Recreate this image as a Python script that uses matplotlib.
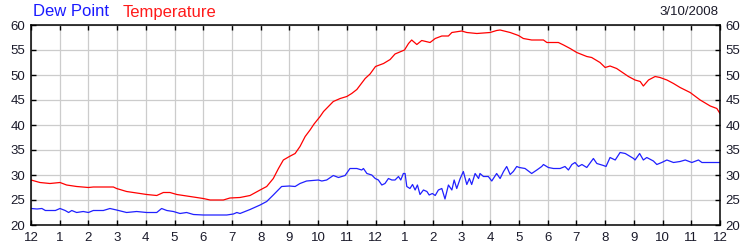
import numpy as np
import matplotlib
matplotlib.use("Agg")
import matplotlib.pyplot as plt

plt.rcParams['font.family'] = ['Liberation Sans', 'DejaVu Sans']

# readings (hour of day, deg F) taken off the chart
temp_hours = [0.0, 0.31, 0.66, 1.01, 1.24, 1.59, 2.0, 2.17, 2.87, 2.98, 3.33, 3.80,
              4.03, 4.38, 4.61, 4.84, 5.08, 5.54, 6.0, 6.24, 6.70, 6.93, 7.28, 7.63,
              7.98, 8.21, 8.44, 8.62, 8.79, 9.0, 9.2, 9.37, 9.55, 9.72, 9.86,
              10.07, 10.19, 10.36, 10.53, 10.77, 11.0, 11.17, 11.35, 11.64, 11.81,
              12.0, 12.28, 12.51, 12.68, 13.01, 13.15, 13.26, 13.44, 13.61, 13.9,
              14.08, 14.31, 14.54, 14.66, 15.0, 15.18, 15.53, 15.76, 15.99, 16.22,
              16.34, 16.69, 16.98, 17.15, 17.44, 17.85, 17.97, 18.37, 18.55, 18.78,
              19.01, 19.36, 19.53, 19.82, 20.0, 20.17, 20.4, 20.81, 21.04, 21.22,
              21.33, 21.51, 21.74, 21.91, 22.15, 22.38, 22.61, 22.96, 23.31, 23.66,
              23.89, 24.0]
temperature = [29.0, 28.5, 28.3, 28.5, 28.0, 27.7, 27.5, 27.6, 27.6, 27.3, 26.7, 26.3,
               26.1, 25.9, 26.5, 26.5, 26.1, 25.7, 25.3, 25.0, 25.0, 25.4, 25.5, 25.9,
               27.0, 27.7, 29.3, 31.3, 33.0, 33.7, 34.3, 35.7, 37.7, 39.0, 40.2,
               41.7, 42.7, 43.7, 44.7, 45.3, 45.7, 46.3, 47.1, 49.3, 50.2,
               51.7, 52.3, 53.1, 54.2, 55.0, 56.3, 57.0, 56.1, 56.9, 56.5,
               57.3, 57.8, 57.8, 58.5, 58.8, 58.5, 58.3, 58.4, 58.5, 58.9,
               59.0, 58.5, 57.9, 57.3, 57.0, 57.0, 56.5, 56.5, 56.0, 55.3,
               54.5, 53.7, 53.5, 52.5, 51.5, 51.8, 51.3, 49.7, 49.0, 48.7,
               47.8, 49.0, 49.7, 49.5, 49.0, 48.3, 47.5, 46.5, 45.0, 43.8,
               43.3, 42.3]

dew_hours = [0.0, 0.21, 0.38, 0.5, 0.85, 1.01, 1.19, 1.31, 1.42, 1.59, 1.82, 2.0,
             2.17, 2.52, 2.75, 2.98, 3.33, 3.68, 4.03, 4.38, 4.55, 4.73, 4.96, 5.19,
             5.42, 5.66, 6.0, 6.35, 6.82, 7.05, 7.17, 7.28, 7.63,
             7.98, 8.21, 8.44, 8.73, 9.0, 9.2, 9.37, 9.6, 10.01, 10.13, 10.3, 10.53,
             10.71, 10.94, 11.11, 11.35, 11.52, 11.58, 11.7, 11.87, 11.99, 12.1,
             12.22, 12.33, 12.45, 12.57, 12.68, 12.8, 12.88, 12.97, 13.03, 13.09,
             13.2, 13.29, 13.38, 13.46, 13.55, 13.67, 13.79, 13.87, 13.98, 14.08,
             14.19, 14.31, 14.42, 14.54, 14.66, 14.74, 14.83, 14.95, 15.06, 15.18,
             15.27, 15.35, 15.47, 15.59, 15.64, 15.76, 15.93, 16.05, 16.22, 16.34,
             16.46, 16.57, 16.69, 16.8, 16.92, 17.01, 17.21, 17.44, 17.62, 17.79,
             17.85, 18.02, 18.2, 18.43, 18.6, 18.72, 18.84, 18.95, 19.07, 19.19,
             19.36, 19.59, 19.71, 19.94, 20.03, 20.17, 20.35, 20.52, 20.7, 20.87,
             20.99, 21.04, 21.2, 21.33, 21.45, 21.68, 21.8, 21.97, 22.15, 22.38,
             22.61, 22.79, 23.02, 23.25, 23.37, 24.0]
dew_point = [23.3, 23.2, 23.3, 22.9, 22.9, 23.3, 22.9, 22.5, 22.9, 22.5, 22.7, 22.5,
             22.9, 22.9, 23.3, 23.0, 22.5, 22.7, 22.5, 22.5, 23.3, 22.9, 22.7, 22.3,
             22.5, 22.1, 22.0, 22.0, 22.0, 22.2, 22.5, 22.3, 23.1,
             24.0, 24.7, 26.0, 27.7, 27.8, 27.7, 28.3, 28.8, 29.0, 28.8, 29.0, 29.9,
             29.5, 29.9, 31.3, 31.3, 31.0, 31.3, 30.3, 30.0, 29.3, 29.0,
             28.0, 28.3, 29.3, 29.0, 29.0, 29.7, 29.0, 30.3, 30.3, 27.7,
             27.3, 28.1, 27.0, 28.0, 26.1, 27.0, 26.7, 26.0, 26.3, 25.9,
             27.0, 27.3, 25.2, 28.0, 27.0, 29.0, 27.3, 29.3, 30.7, 28.1,
             29.3, 28.1, 30.3, 29.3, 30.3, 29.7, 29.7, 28.8, 30.3, 29.3,
             30.7, 31.7, 30.1, 30.7, 31.7, 31.5, 31.3, 30.3, 31.0, 31.7,
             32.1, 31.5, 31.3, 31.3, 31.7, 31.0, 32.1, 32.5, 31.7, 32.1,
             31.5, 33.3, 32.3, 31.9, 31.7, 33.5, 33.0, 34.5, 34.3, 33.7,
             33.3, 33.0, 34.3, 33.0, 33.5, 32.8, 32.1, 32.5, 33.0, 32.5,
             32.7, 33.0, 32.5, 33.0, 32.5, 32.5]

hour_labels = ['12'] + [str(h) for h in range(1, 12)] + ['12'] + [str(h) for h in range(1, 12)] + ['12']
y_ticks = [20, 25, 30, 35, 40, 45, 50, 55, 60]

fig = plt.figure(figsize=(7.5, 2.5), dpi=100)
ax = fig.add_axes([31 / 750, 25 / 250, 689 / 750, 200 / 250])

ax.plot(temp_hours, temperature, color='#ff0000', lw=0.9)
ax.plot(dew_hours, dew_point, color='#2020ff', lw=0.9)

ax.set_xlim(0, 24)
ax.set_ylim(20, 60)
ax.set_xticks(range(25))
ax.set_xticklabels(hour_labels)
ax.set_yticks(y_ticks)
ax.grid(True, color='#cccccc', lw=0.9)
ax.set_axisbelow(True)

ax.tick_params(axis='both', direction='in', length=3.5, width=1, labelsize=9.5,
               labelcolor='#1a1a2a', top=True, right=True, labelright=True)
ax.tick_params(axis='x', pad=5)
ax.tick_params(axis='y', pad=4)
for s in ax.spines.values():
    s.set_color('black')
    s.set_linewidth(1.1)

fig.text(33 / 750, 0.952, 'Dew Point', color='#1a1aff', fontsize=12, va='center', ha='left')
fig.text(123 / 750, 0.952, 'Temperature', color='#ff1a1a', fontsize=12, va='center', ha='left')
fig.text(718 / 750, 0.952, '3/10/2008', color='#1a1a2a', fontsize=9.5, va='center', ha='right')

fig.savefig('out.png', dpi=100)
